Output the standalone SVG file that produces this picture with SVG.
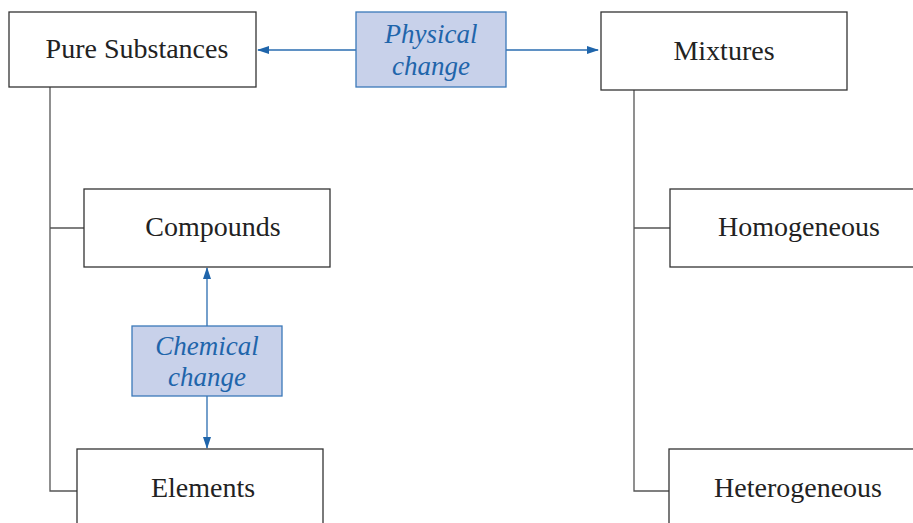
<svg xmlns="http://www.w3.org/2000/svg" width="913" height="523" viewBox="0 0 913 523">
<style>
.box{fill:#fff;stroke:#333;stroke-width:1.3}
.chg{fill:#c8d1ea;stroke:#3b79b9;stroke-width:1.3}
.t{font-family:"Liberation Serif","Times New Roman",serif;font-size:28px;fill:#222;text-anchor:middle}
.ti{font-family:"Liberation Serif","Times New Roman",serif;font-size:27px;font-style:italic;fill:#1f65ab;text-anchor:middle}
.ln{stroke:#555;stroke-width:1.3;fill:none}
.ar{stroke:#2a6cb0;stroke-width:1.3;fill:none;marker-end:url(#ah)}
</style>
<defs>
<marker id="ah" markerWidth="12" markerHeight="8" refX="11" refY="4" orient="auto" markerUnits="userSpaceOnUse">
<path d="M0,0 L12,4 L0,8 Z" fill="#1f65ab"/>
</marker>
</defs>
<g id="connectors">
<path class="ln" d="M50,87 V491 H77 M50,228 H84"/>
<path class="ln" d="M634,90 V491 H669 M634,228 H670"/>
<line class="ar" x1="356" y1="50" x2="258" y2="50"/>
<line class="ar" x1="506" y1="50" x2="598" y2="50"/>
<line class="ar" x1="207" y1="326" x2="207" y2="268"/>
<line class="ar" x1="207" y1="396" x2="207" y2="448"/>
</g>
<g id="pure"><rect class="box" x="9" y="12" width="247" height="75"/><text class="t" x="137" y="58">Pure Substances</text></g>
<g id="physical"><rect class="chg" x="356" y="12" width="150" height="75"/><text class="ti" x="431" y="43">Physical</text><text class="ti" x="431" y="75">change</text></g>
<g id="mixtures"><rect class="box" x="601" y="12" width="246" height="78"/><text class="t" x="724" y="60">Mixtures</text></g>
<g id="compounds"><rect class="box" x="84" y="189" width="246" height="78"/><text class="t" x="213" y="236">Compounds</text></g>
<g id="chemical"><rect class="chg" x="132" y="326" width="150" height="70"/><text class="ti" x="207" y="355">Chemical</text><text class="ti" x="207" y="386">change</text></g>
<g id="elements"><rect class="box" x="77" y="449" width="246" height="90"/><text class="t" x="203" y="497">Elements</text></g>
<g id="homogeneous"><rect class="box" x="670" y="189" width="260" height="78"/><text class="t" x="799" y="236">Homogeneous</text></g>
<g id="heterogeneous"><rect class="box" x="669" y="449" width="260" height="90"/><text class="t" x="798" y="497">Heterogeneous</text></g>
</svg>
